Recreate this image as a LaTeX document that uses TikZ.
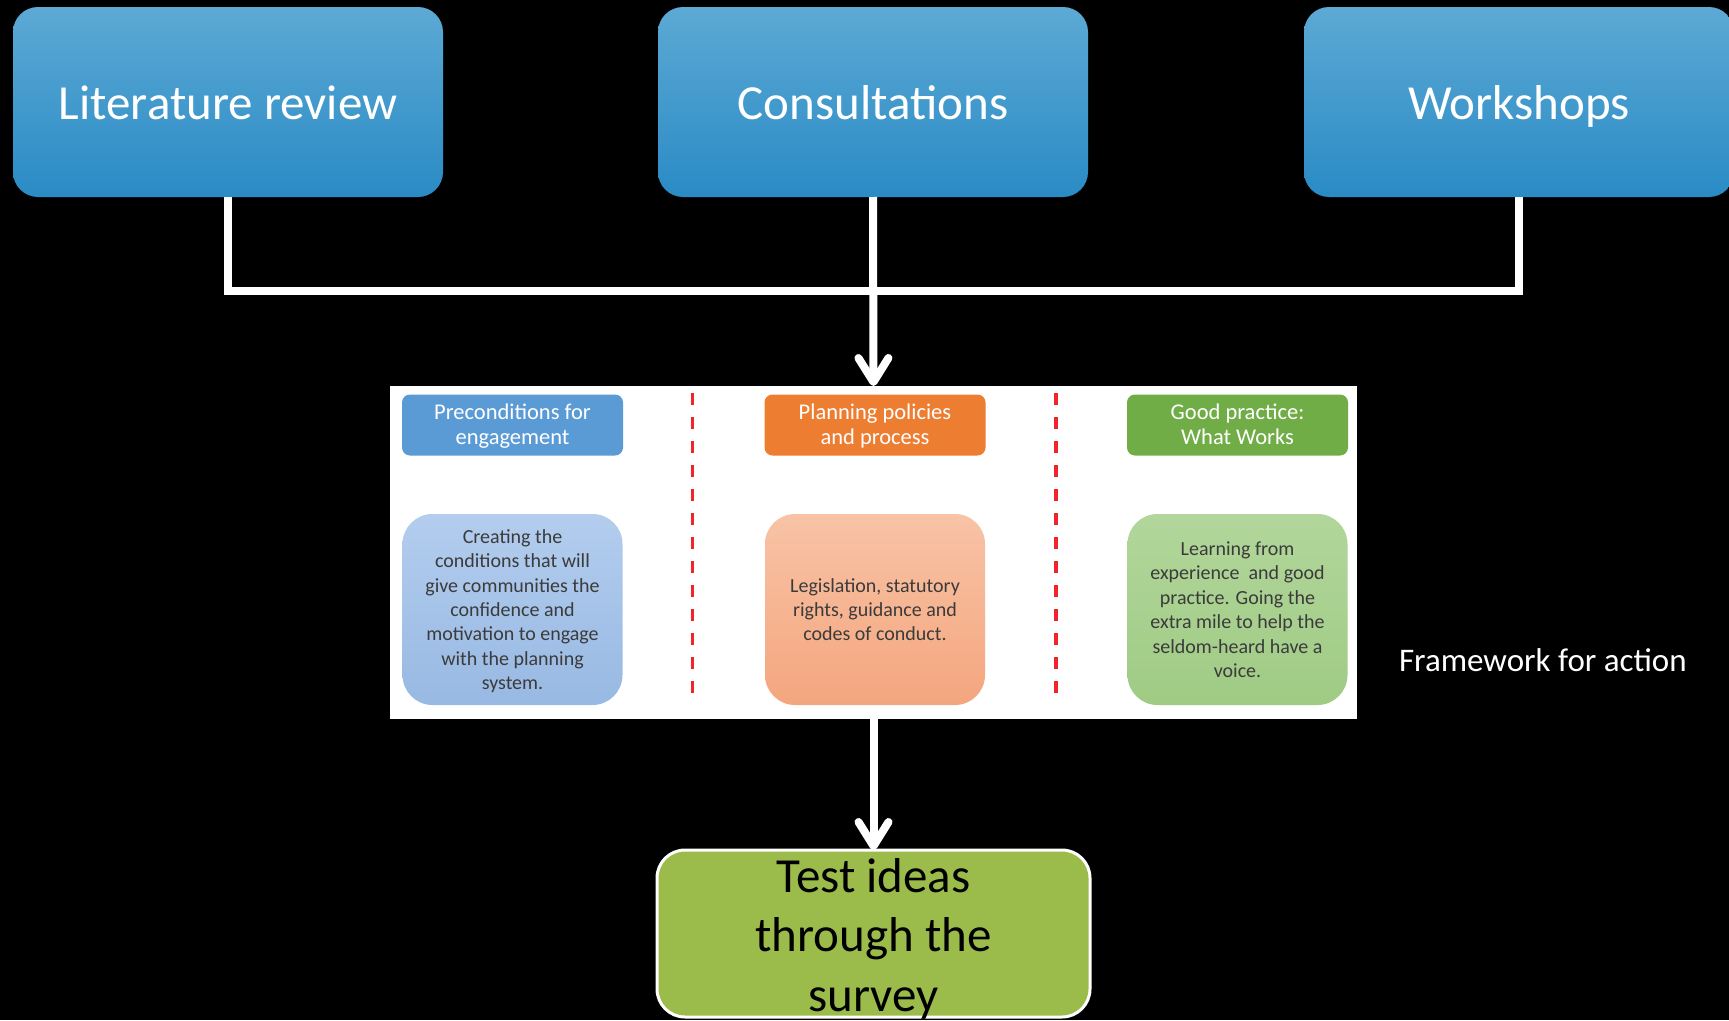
\documentclass[tikz,border=0pt]{standalone}
\usepackage{fontspec}
\setmainfont{Carlito}
\usetikzlibrary{arrows.meta}
\definecolor{topA}{HTML}{5CA9D4}
\definecolor{topB}{HTML}{2A8BC5}
\definecolor{hblue}{HTML}{5B9BD5}
\definecolor{horange}{HTML}{ED7D31}
\definecolor{hgreen}{HTML}{70AD47}
\definecolor{lbA}{HTML}{B3CDEE}
\definecolor{lbB}{HTML}{98B9E3}
\definecolor{loA}{HTML}{F8C3A6}
\definecolor{loB}{HTML}{F4A67E}
\definecolor{lgA}{HTML}{B2D69B}
\definecolor{lgB}{HTML}{9FCB84}
\definecolor{bodytext}{HTML}{3B3B3B}
\definecolor{testg}{HTML}{9BBB4A}
\definecolor{reddash}{HTML}{F0242B}
\begin{document}
\begin{tikzpicture}[x=1pt,y=-1pt,
  every node/.style={inner sep=0pt,outer sep=0pt},
  topbox/.style={rounded corners=25pt,top color=topA,bottom color=topB,
    minimum width=430pt,minimum height=190pt,text=white,
    font=\fontsize{49}{59.5}\selectfont,text height=34pt,text depth=0pt},
  conn/.style={draw=white,line width=8pt},
  tipped/.style={-{Straight Barb[length=24pt,width=30pt,line width=8pt,round]}},
  hdr/.style={rounded corners=8pt,minimum width=221pt,minimum height=61pt,
    text=white,align=center,font=\fontsize{22.5}{25}\selectfont,
    text height=39pt,text depth=0pt},
  body/.style={rounded corners=30pt,minimum width=220pt,minimum height=191pt,
    text=bodytext,align=center,font=\fontsize{20}{24.4}\selectfont,
    text depth=0pt},
  sep/.style={draw=reddash,line width=3.5pt,dash pattern=on 12pt off 12pt},
  testbox/.style={rounded corners=28pt,fill=testg,draw=white,line width=3pt,
    minimum width=433pt,minimum height=167pt,align=center,text=black,
    font=\fontsize{49}{59.5}\selectfont,text height=155pt,text depth=0pt}
]
\fill[black] (0,0) rectangle (1729,1020);
\useasboundingbox (0,0) rectangle (1729,1020);

% top boxes
\node[topbox] (lr) at (228,102) {Literature review};
\node[topbox] (cons) at (873,102) {Consultations};
\node[topbox] (ws) at (1519,102) {Workshops};

% framework panel
\node[fill=white,minimum width=967pt,minimum height=333pt] (panel) at (873.5,552.5) {};

% connectors
\coordinate (bus) at (873,290.5);
\draw[conn] (lr.south) |- (bus) -| (ws.south);
\draw[conn,tipped] (cons.south) -- (panel.north);

% headers
\node[hdr,fill=hblue] (h1) at (512.5,425) {Preconditions for\\engagement};
\node[hdr,fill=horange] (h2) at (875,425) {Planning policies\\and process};
\node[hdr,fill=hgreen] (h3) at (1237.5,425) {Good practice:\\What Works};

% bodies
\node[body,top color=lbA,bottom color=lbB,text height=160.4pt] (b1) at (512.5,609.5)
  {Creating the\\conditions that will\\give communities the\\confidence and\\motivation to engage\\with the planning\\system.};
\node[body,top color=loA,bottom color=loB,text height=62.8pt] (b2) at (875,609.5)
  {Legislation, statutory\\rights, guidance and\\codes of conduct.};
\node[body,top color=lgA,bottom color=lgB,text height=136pt] (b3) at (1237.5,609.5)
  {Learning from\\experience\ \ and good\\practice. Going the\\extra mile to help the\\seldom-heard have a\\voice.};

% separators
\draw[sep] (692.5,393) -- (692.5,701);
\draw[sep] (1056,393) -- (1056,701);

% label
\node[anchor=base west,text=white,font=\fontsize{33}{40}\selectfont] (fw) at (1399,671) {Framework for action};

% test box
\node[testbox] (test) at (873.5,933.5) {Test ideas\\through the\\survey};
\draw[conn,tipped] (panel.south) -- (test.north);
\end{tikzpicture}
\end{document}
